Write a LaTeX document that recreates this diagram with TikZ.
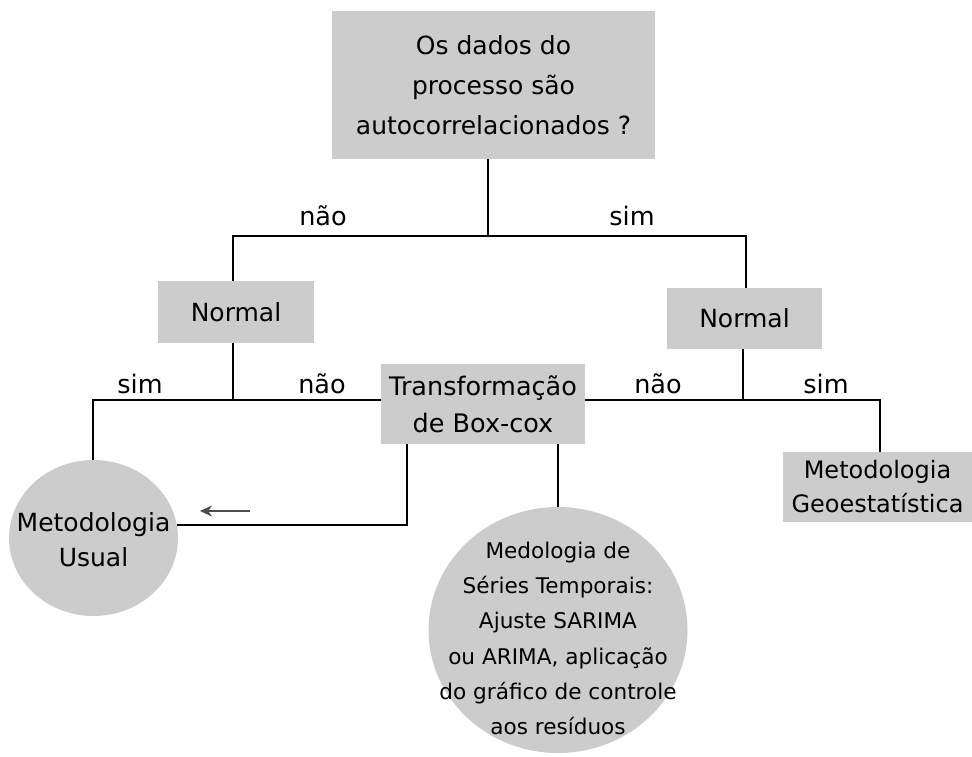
\documentclass[tikz,border=0pt]{standalone}
\usepackage{fontspec}
\setmainfont{DejaVu Sans}
\usetikzlibrary{shapes.geometric,arrows.meta}
\definecolor{boxgray}{HTML}{CCCCCC}
\begin{document}
\begin{tikzpicture}[x=1pt,y=-1pt,
  box/.style={fill=boxgray,inner sep=0pt,align=center,font=\fontsize{25}{40}\selectfont},
  oval/.style={ellipse,fill=boxgray,inner sep=0pt},
  txt/.style={inner sep=0pt,align=center},
  lbl/.style={font=\fontsize{25.5}{30}\selectfont,inner sep=0pt},
  conn/.style={line width=1.3pt,black}]
\useasboundingbox (0,0) rectangle (972,756);
\node[box,minimum width=323pt,minimum height=148pt] (top) at (493.5,85) {Os dados do\\processo são\\autocorrelacionados ?};
\node[box,minimum width=156pt,minimum height=62pt] (normL) at (236,312) {Normal};
\node[box,minimum width=155pt,minimum height=61pt] (normR) at (744.5,318.5) {Normal};
\node[box,minimum width=204pt,minimum height=80pt,font=\fontsize{25.5}{37}\selectfont] (trans) at (483,404) {Transformação\\de Box-cox};
\node[box,minimum width=189pt,minimum height=70pt,font=\fontsize{24}{34}\selectfont] (geo) at (877.5,487) {Metodologia\\Geoestatística};
\node[oval,minimum width=169pt,minimum height=156pt] (usual) at (93.5,538) {};
\node[txt,font=\fontsize{25}{35}\selectfont] (usualt) at ([yshift=-2pt]usual.center) {Metodologia\\Usual};
\node[oval,minimum width=259pt,minimum height=246pt] (series) at (558,630) {};
\node[txt,font=\fontsize{21.6}{35.3}\selectfont] (seriest) at ([yshift=-8.5pt]series.center) {Medologia de\\Séries Temporais:\\Ajuste SARIMA\\ou ARIMA, aplicação\\do gráfico de controle\\aos resíduos};
\coordinate (j1) at (488,236);
\coordinate (j1l) at (233,236);
\coordinate (j1r) at (746,236);
\coordinate (j2) at (233,400);
\coordinate (j2l) at (93,400);
\coordinate (j3) at (743,400);
\coordinate (j3r) at (880,400);
\coordinate (k1) at (407,525);
\draw[conn] (top.south -| j1) -- (j1);
\draw[conn] (normL.north -| j1l) -- (j1l) -- (j1r) -- (normR.north -| j1r);
\draw[conn] (normL.south -| j2) -- (j2);
\draw[conn] (usual.north -| j2l) -- (j2l) -- (trans.west |- j2l);
\draw[conn] (normR.south -| j3) -- (j3);
\draw[conn] (trans.east |- j3) -- (j3r) -- (geo.north -| j3r);
\draw[conn] (trans.south -| series.north) -- (series.north);
\draw[conn] (trans.south -| k1) -- (k1) -- ([xshift=-1pt]usual.east |- k1);
\coordinate (a1) at (250,511);
\coordinate (a2) at (200,511);
\draw[line width=2pt,black!70,-{Stealth[length=12pt,width=11pt]}] (a1) -- (a2);
\node[lbl] (l1) at (323,216) {não};
\node[lbl] (l2) at (632,216) {sim};
\node[lbl] (l3) at (140,384) {sim};
\node[lbl] (l4) at (322,384) {não};
\node[lbl] (l5) at (658,384) {não};
\node[lbl] (l6) at (826,384) {sim};
\end{tikzpicture}
\end{document}
